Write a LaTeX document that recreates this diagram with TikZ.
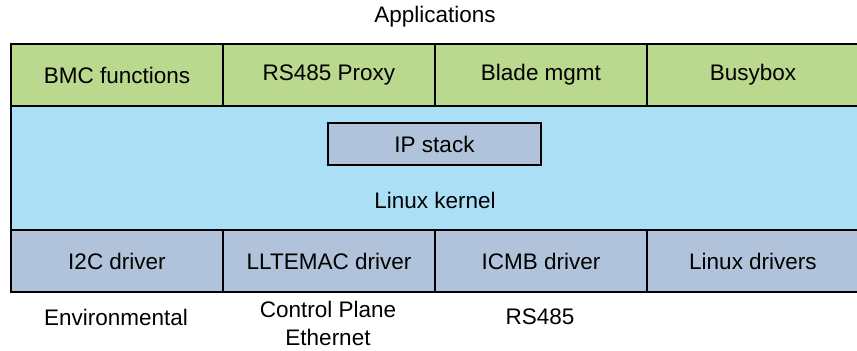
\documentclass[tikz,border=0pt]{standalone}
\usepackage{fontspec}
\setmainfont{Liberation Sans}
\usetikzlibrary{positioning}
\definecolor{appgreen}{RGB}{186,216,142}
\definecolor{kernblue}{RGB}{170,223,246}
\definecolor{drvgray}{RGB}{176,195,218}
\tikzset{
  cell/.style={draw, line width=0.75pt, inner sep=0pt, outer sep=0pt,
    minimum width=106pt, minimum height=31pt},
  app/.style={cell, fill=appgreen},
  drv/.style={cell, fill=drvgray},
  lbl/.style={align=center, inner sep=0pt}
}

\begin{document}
\begin{tikzpicture}[x=0.5pt, y=0.5pt, font=\fontsize{11.25}{14}\selectfont]
\useasboundingbox (0,0) rectangle (857,350);
\node [lbl] (apps) at (435,333) {Applications};
% kernel layer
\node [cell, fill=kernblue, minimum width=424pt, minimum height=62pt] (kernel) at (435,182) {};
\node [draw, line width=0.75pt, fill=drvgray, inner sep=0pt, minimum width=106.5pt, minimum height=21pt] (ipstack) at (434.5,206) {IP stack};
\node [lbl] (linux) at (435,150) {Linux kernel};
% application row
\node [app] (bmc) at (117,275) {BMC functions};
\node [app, right=0pt of bmc] (proxy) {RS485 Proxy};
\node [app, right=0pt of proxy] (blade) {Blade mgmt};
\node [app, right=0pt of blade] (busybox) {Busybox};
% driver row
\node [drv] (i2c) at (117,89) {I2C driver};
\node [drv, right=0pt of i2c] (lltemac) {LLTEMAC driver};
\node [drv, right=0pt of lltemac] (icmb) {ICMB driver};
\node [drv, right=0pt of icmb] (lnxdrv) {Linux drivers};
% bus labels
\node [lbl] (env) at (116,33) {Environmental};
\node [lbl] (ctrl) at (328,27) {Control Plane\\Ethernet};
\node [lbl] (rs) at (540,33) {RS485};
\end{tikzpicture}
\end{document}
